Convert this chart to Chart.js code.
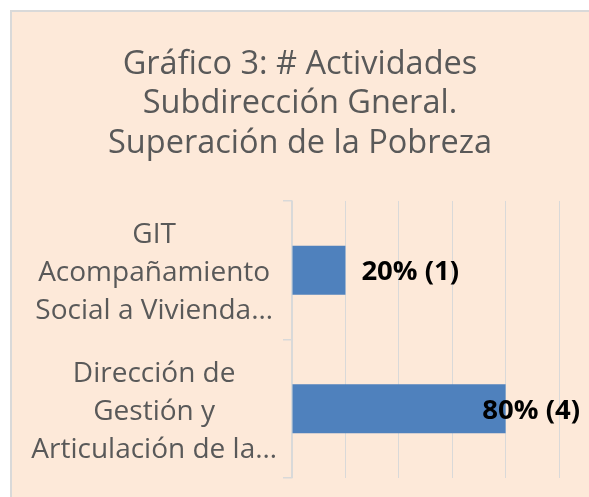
<!DOCTYPE html>
<html>
<head>
<meta charset="utf-8">
<script src="https://cdn.jsdelivr.net/npm/chart.js@4.4.1/dist/chart.umd.min.js"></script>
<style>
  html, body { margin: 0; padding: 0; background: #ffffff; }
  #page { position: relative; width: 589px; height: 497px; overflow: hidden; }
  #box {
    position: absolute; left: 10px; top: 10px; width: 600px; height: 500px;
    background: #fde9d9; border: 2px solid #d9d9d9;
  }
  #chart { position: absolute; left: 0; top: 0; }
</style>
</head>
<body>
<div id="page">
  <div id="box"></div>
  <canvas id="chart" width="589" height="497"></canvas>
</div>
<script>
var titleLines = ['Gráfico 3: # Actividades', 'Subdirección Gneral.', 'Superación de la Pobreza'];
var categories = [
    ['GIT', 'Acompañamiento', 'Social a Vivienda…'],
    ['Dirección de', 'Gestión y', 'Articulación de la…']
];
var percentValues = [20, 80];
var activityCounts = [1, 4];
var axisMin = 0;
var axisMax = 100;
var axisStep = 20;

// labels like "20% (1)" next to each bar
var barLabels = {
    id: 'barLabels',
    afterDatasetsDraw: function (chart) {
        var ctx = chart.ctx;
        var meta = chart.getDatasetMeta(0);
        var limit = chart.chartArea.right + 21;
        ctx.save();
        ctx.font = 'bold 27.5px "Open Sans"';
        ctx.fillStyle = '#000000';
        ctx.textBaseline = 'middle';
        ctx.textAlign = 'left';
        meta.data.forEach(function (bar, i) {
            var text = percentValues[i] + '% (' + activityCounts[i] + ')';
            var w = ctx.measureText(text).width;
            var x = bar.x + 16;
            if (x + w > limit) x = limit - w;
            ctx.fillText(text, x, bar.y + 2);
        });
        ctx.restore();
    }
};

new Chart(document.getElementById('chart'), {
    type: 'bar',
    data: {
        labels: categories,
        datasets: [{
            data: percentValues,
            backgroundColor: '#4f81bd',
            borderWidth: 0,
            categoryPercentage: 1,
            barPercentage: 0.355
        }]
    },
    options: {
        indexAxis: 'y',
        responsive: false,
        animation: false,
        layout: { padding: { top: 0, right: 0, bottom: 19, left: 11 } },
        plugins: {
            legend: { display: false },
            tooltip: { enabled: false },
            title: {
                display: true,
                text: titleLines,
                color: '#595959',
                font: { family: '"Open Sans"', size: 32.5, weight: 'normal', lineHeight: 1.21 },
                padding: { top: 45, bottom: 38 }
            }
        },
        scales: {
            x: {
                min: axisMin,
                max: axisMax,
                afterFit: function (scale) { scale.paddingRight = 30; },
                ticks: { stepSize: axisStep, display: false },
                grid: { color: '#d9d9d9', lineWidth: 1, drawTicks: false },
                border: { display: false }
            },
            y: {
                afterFit: function (scale) {
                    scale.width = 281;
                    // multi-line labels would otherwise shrink the plot
                    scale.paddingTop = 0;
                    scale.paddingBottom = 0;
                },
                grid: { offset: true, drawOnChartArea: false, drawTicks: true, tickLength: 9, color: '#d9d9d9', lineWidth: 1.5 },
                border: { display: true, color: '#d9d9d9', width: 1.5 },
                ticks: {
                    crossAlign: 'center',
                    padding: 6,
                    labelOffset: 3,
                    color: '#595959',
                    font: { family: '"Open Sans"', size: 28, lineHeight: 1.36 }
                }
            }
        }
    },
    plugins: [barLabels]
});
</script>
</body>
</html>
